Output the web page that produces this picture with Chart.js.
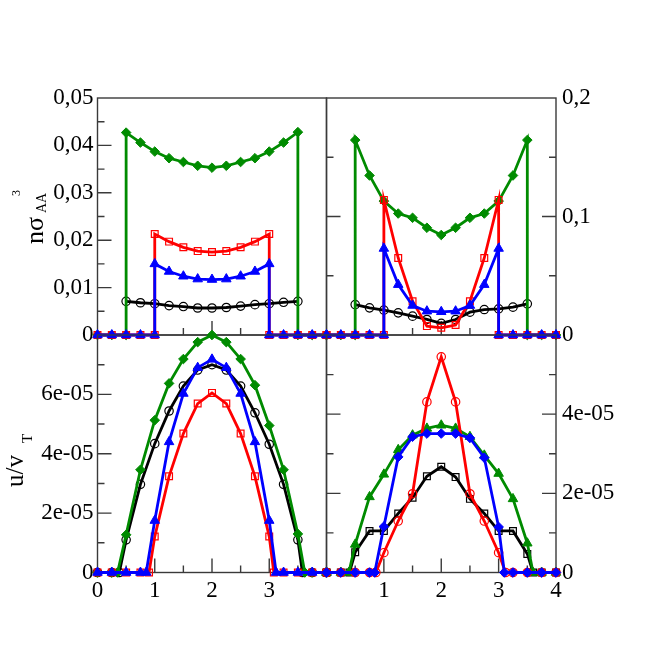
<!DOCTYPE html>
<html>
<head>
<meta charset="utf-8">
<script src="https://cdn.jsdelivr.net/npm/chart.js@4.4.0/dist/chart.umd.min.js"></script>
<style>
  html, body { margin: 0; padding: 0; background: #fff; }
  #wrap { position: relative; width: 654px; height: 671px; overflow: hidden; }
  #wrap canvas { position: absolute; left: 0; top: 0; }
</style>
</head>
<body>
<div id="wrap">
  <canvas id="cTL" width="654" height="671"></canvas>
  <canvas id="cTR" width="654" height="671"></canvas>
  <canvas id="cBL" width="654" height="671"></canvas>
  <canvas id="cBR" width="654" height="671"></canvas>
</div>
<script>
// ---------------- DATA ----------------
// Top-left panel: density n*sigma_AA^3
const TL_green_x = [0,0.25,0.5,0.5,0.75,1,1.25,1.5,1.75,2,2.25,2.5,2.75,3,3.25,3.5,3.5,3.75,4];
const TL_green_y = [0,0,0,0.0427,0.0406,0.0387,0.0373,0.0365,0.0357,0.0353,0.0357,0.0365,0.0373,0.0387,0.0406,0.0428,0,0,0];
const TL_step_x  = [0,0.25,0.5,0.75,1,1,1.25,1.5,1.75,2,2.25,2.5,2.75,3,3,3.25,3.5,3.75,4];
const TL_red_y   = [0,0,0,0,0,0.0213,0.0197,0.0185,0.0177,0.0175,0.0177,0.0185,0.0197,0.0213,0,0,0,0,0];
const TL_blue_y  = [0,0,0,0,0,0.0150,0.0134,0.0124,0.0118,0.0117,0.0118,0.0124,0.0134,0.0150,0,0,0,0,0];
const TL_black_x = [0.5,0.75,1,1.25,1.5,1.75,2,2.25,2.5,2.75,3,3.25,3.5];
const TL_black_y = [0.0071,0.0068,0.0066,0.0062,0.0060,0.0057,0.0057,0.0058,0.0061,0.0064,0.0066,0.0069,0.0071];

// Top-right panel: density
const TR_green_x = [0,0.25,0.5,0.5,0.75,1,1.25,1.5,1.75,2,2.25,2.5,2.75,3,3.25,3.5,3.5,3.75,4];
const TR_green_y = [0,0,0,0.1645,0.1346,0.113,0.1025,0.0989,0.0905,0.0844,0.0905,0.0989,0.1025,0.113,0.1346,0.1645,0,0,0];
const TR_step_x  = [0,0.25,0.5,0.75,1,1,1.25,1.5,1.75,2,2.25,2.5,2.75,3,3,3.25,3.5,3.75,4];
const TR_red_y   = [0,0,0,0,0,0.114,0.065,0.0285,0.0075,0.0061,0.0084,0.0285,0.065,0.114,0,0,0,0,0];
const TR_blue_y  = [0,0,0,0,0,0.073,0.0425,0.0249,0.0201,0.0196,0.0201,0.0249,0.0425,0.073,0,0,0,0,0];
const TR_black_x = [0.5,0.75,1,1.25,1.5,1.75,2,2.25,2.5,2.75,3,3.25,3.5];
const TR_black_y = [0.0257,0.0229,0.0210,0.0187,0.0159,0.0131,0.0098,0.0131,0.0193,0.0215,0.0221,0.0235,0.0263];

// Bottom-left panel: velocity u/v_T
const BL_green_x = [0,0.25,0.35,0.5,0.75,1,1.25,1.5,1.75,2,2.25,2.5,2.75,3,3.25,3.5,3.62,3.75,4];
const BL_green_y = [0,0,0,1.27e-5,3.46e-5,5.13e-5,6.37e-5,7.19e-5,7.76e-5,8.0e-5,7.76e-5,7.19e-5,6.31e-5,4.95e-5,3.46e-5,1.3e-5,0,0,0];
const BL_black_x = [0,0.25,0.38,0.5,0.75,1,1.25,1.5,1.75,2,2.25,2.5,2.75,3,3.25,3.5,3.58,3.75,4];
const BL_black_y = [0,0,0,1.1e-5,2.97e-5,4.34e-5,5.44e-5,6.28e-5,6.82e-5,7.0e-5,6.82e-5,6.28e-5,5.38e-5,4.32e-5,2.97e-5,1.1e-5,0,0,0];
const BL_blue_x  = [0,0.25,0.5,0.75,0.85,1,1.25,1.5,1.75,2,2.25,2.5,2.75,3,3.12,3.25,3.5,3.75,4];
const BL_blue_y  = [0,0,0,0,0,1.75e-5,4.4e-5,6.03e-5,6.9e-5,7.18e-5,6.9e-5,6.03e-5,4.4e-5,1.75e-5,0,0,0,0,0];
const BL_red_x   = [0,0.25,0.5,0.75,0.9,1,1.25,1.5,1.75,2,2.25,2.5,2.75,3,3.08,3.25,3.5,3.75,4];
const BL_red_y   = [0,0,0,0,0,1.21e-5,3.24e-5,4.68e-5,5.69e-5,6.05e-5,5.69e-5,4.68e-5,3.24e-5,1.21e-5,0,0,0,0,0];

// Bottom-right panel: velocity
const BR_red_x   = [0,0.25,0.5,0.75,0.86,1,1.25,1.5,1.75,2,2.25,2.5,2.75,3,3.12,3.25,3.5,3.75,4];
const BR_red_y   = [0,0,0,0,0,0.5e-5,1.3e-5,1.99e-5,4.31e-5,5.45e-5,4.31e-5,1.99e-5,1.3e-5,0.5e-5,0,0,0,0,0];
const BR_green_x = [0,0.25,0.39,0.5,0.75,1,1.25,1.5,1.75,2,2.25,2.5,2.75,3,3.25,3.5,3.6,3.75,4];
const BR_green_y = [0,0,0,0.71e-5,1.91e-5,2.48e-5,3.1e-5,3.47e-5,3.64e-5,3.72e-5,3.64e-5,3.43e-5,2.96e-5,2.5e-5,1.86e-5,0.74e-5,0,0,0];
const BR_blue_x  = [0,0.25,0.5,0.75,0.84,1,1.25,1.5,1.75,2,2.25,2.5,2.75,3,3.1,3.25,3.5,3.75,4];
const BR_blue_y  = [0,0,0,0,0,1.16e-5,2.92e-5,3.43e-5,3.51e-5,3.51e-5,3.51e-5,3.4e-5,2.9e-5,1.15e-5,0,0,0,0,0];
const BR_black_x = [0,0.25,0.4,0.5,0.75,1,1.25,1.5,1.75,2,2.25,2.5,2.75,3,3.25,3.5,3.6,3.75,4];
const BR_black_y = [0,0,0,0.51e-5,1.05e-5,1.05e-5,1.49e-5,1.89e-5,2.43e-5,2.67e-5,2.41e-5,1.86e-5,1.49e-5,1.05e-5,1.05e-5,0.47e-5,0,0,0];

// Tick values and labels
const TL_yTickVals = [0,0.01,0.02,0.03,0.04,0.05];
const TL_yTickLabels = ['0','0,01','0,02','0,03','0,04','0,05'];
const TR_yTickVals = [0,0.1,0.2];
const TR_yTickLabels = ['0','0,1','0,2'];
const BL_yTickVals = [0,2e-5,4e-5,6e-5];
const BL_yTickLabels = ['0','2e-05','4e-05','6e-05'];
const BR_yTickVals = [0,2e-5,4e-5];
const BR_yTickLabels = ['0','2e-05','4e-05'];
const BL_xTickVals = [0,1,2,3];
const BL_xTickLabels = ['0','1','2','3'];
const BR_xTickVals = [1,2,3,4];
const BR_xTickLabels = ['1','2','3','4'];

const xMajorMarks = [1,2,3];
const xMinorMarks = [0.5,1.5,2.5,3.5];
const TL_yMajorMarks = [0.01,0.02,0.03,0.04];
const TL_yMinorMarks = [0.005,0.015,0.025,0.035,0.045];
const TR_yMajorMarks = [0.1];
const TR_yMinorMarks = [0.05,0.15];
const BL_yMajorMarks = [2e-5,4e-5,6e-5];
const BL_yMinorMarks = [1e-5,3e-5,5e-5,7e-5];
const BR_yMajorMarks = [2e-5,4e-5];
const BR_yMinorMarks = [1e-5,3e-5,5e-5];

// ---------------- STYLE / HELPERS ----------------
const GREEN = '#008b00', RED = '#ff0000', BLUE = '#0000ff', BLACK = '#000000';
const FONT = 'Liberation Serif';
const W = 654, H = 671;
const P = { left: 97.5, mid: 326.5, right: 556, top: 98, midY: 335, bottom: 572.5 };

function pts(xs, ys) { return xs.map((x, i) => ({ x: x, y: ys[i] })); }

function ds(xs, ys, color, style, radius, filled) {
  return {
    data: pts(xs, ys),
    showLine: true,
    borderColor: color,
    backgroundColor: color,
    borderWidth: 2.8,
    tension: 0,
    clip: false,
    pointStyle: style,
    pointRadius: radius,
    pointHoverRadius: radius,
    pointBorderColor: color,
    pointBackgroundColor: filled ? color : 'rgba(0,0,0,0)',
    pointBorderWidth: filled ? 1 : 1.2
  };
}

const frameTicks = {
  id: 'frameTicks',
  beforeDatasetsDraw(chart, args, o) {
    const { ctx, chartArea: a, scales } = chart;
    const xs = scales.x, ys = scales.y;
    ctx.save();
    ctx.strokeStyle = '#3a3a3a';
    ctx.lineWidth = 1.4;
    ctx.strokeRect(a.left, a.top, a.right - a.left, a.bottom - a.top);
    ctx.beginPath();
    const mark = (vals, len) => {
      vals.forEach(v => {
        const p = xs.getPixelForValue(v);
        ctx.moveTo(p, a.bottom); ctx.lineTo(p, a.bottom - len);
      });
    };
    mark(o.xMajor, 14); mark(o.xMinor, 7);
    const ymark = (vals, len) => {
      vals.forEach(v => {
        const p = ys.getPixelForValue(v);
        if (o.ySides.includes('left')) { ctx.moveTo(a.left, p); ctx.lineTo(a.left + len, p); }
        if (o.ySides.includes('right')) { ctx.moveTo(a.right, p); ctx.lineTo(a.right - len, p); }
      });
    };
    ymark(o.yMajor, 14); ymark(o.yMinor, 7);
    ctx.stroke();
    ctx.restore();
  }
};

function drawRot(ctx, text, size, bx, by) {
  ctx.save();
  ctx.translate(bx, by);
  ctx.rotate(-Math.PI / 2);
  ctx.font = size + 'px "' + FONT + '"';
  ctx.fillStyle = '#000';
  ctx.textAlign = 'left';
  ctx.textBaseline = 'alphabetic';
  ctx.fillText(text, 0, 0);
  ctx.restore();
}

const titles = {
  id: 'titles',
  afterDraw(chart, args, o) {
    const ctx = chart.ctx;
    o.items.forEach(it => drawRot(ctx, it[0], it[1], it[2], it[3]));
  }
};

function yScale(min, max, pos, vals, labels, pad) {
  return {
    type: 'linear', min: min, max: max, position: pos,
    grid: { display: false, drawTicks: false },
    border: { display: false },
    afterBuildTicks: s => { s.ticks = vals.map(v => ({ value: v })); },
    afterFit: s => { s.width = 60; },
    ticks: {
      autoSkip: false, padding: pad, color: '#000',
      font: { family: FONT, size: 23 },
      callback: (v, i) => labels[i]
    }
  };
}

function xScale(vals, labels) {
  if (!vals) {
    return { type: 'linear', min: 0, max: 4, display: false };
  }
  return {
    type: 'linear', min: 0, max: 4, position: 'bottom',
    grid: { display: false, drawTicks: false },
    border: { display: false },
    afterBuildTicks: s => { s.ticks = vals.map(v => ({ value: v })); },
    afterFit: s => { s.height = 40; },
    ticks: {
      autoSkip: false, maxRotation: 0, padding: 5, color: '#000',
      font: { family: FONT, size: 23 },
      callback: (v, i) => labels[i]
    }
  };
}

function makeChart(id, datasets, scales, padding, frameOpts, titleItems) {
  return new Chart(document.getElementById(id), {
    type: 'scatter',
    data: { datasets: datasets },
    plugins: [frameTicks, titles],
    options: {
      responsive: false,
      animation: false,
      events: [],
      layout: { padding: padding },
      scales: scales,
      plugins: {
        legend: { display: false },
        tooltip: { enabled: false },
        frameTicks: frameOpts,
        titles: { items: titleItems || [] }
      }
    }
  });
}

// ---------------- CHARTS ----------------
// Top-left
makeChart('cTL', [
    ds(TL_step_x, TL_blue_y, BLUE, 'triangle', 5.5, true),
    ds(TL_step_x, TL_red_y, RED, 'rect', 4.8, false),
    ds(TL_green_x, TL_green_y, GREEN, 'rectRot', 4.8, true),
    ds(TL_black_x, TL_black_y, BLACK, 'circle', 4.2, false)
  ],
  { x: xScale(null), y: yScale(0, 0.05, 'left', TL_yTickVals, TL_yTickLabels, 4) },
  { left: P.left - 60, right: W - P.mid, top: P.top, bottom: H - P.midY },
  { xMajor: xMajorMarks, xMinor: xMinorMarks, yMajor: TL_yMajorMarks, yMinor: TL_yMinorMarks, ySides: ['left'] },
  [['n\u03c3', 26, 43, 244], ['AA', 14, 46, 213], ['3', 12, 20, 196]]
);

// Top-right
makeChart('cTR', [
    ds(TR_step_x, TR_blue_y, BLUE, 'triangle', 5.5, true),
    ds(TR_step_x, TR_red_y, RED, 'rect', 4.8, false),
    ds(TR_green_x, TR_green_y, GREEN, 'rectRot', 4.8, true),
    ds(TR_black_x, TR_black_y, BLACK, 'circle', 4.2, false)
  ],
  { x: xScale(null), y: yScale(0, 0.2, 'right', TR_yTickVals, TR_yTickLabels, 6) },
  { left: P.mid, right: W - P.right - 60, top: P.top, bottom: H - P.midY },
  { xMajor: xMajorMarks, xMinor: xMinorMarks, yMajor: TR_yMajorMarks, yMinor: TR_yMinorMarks, ySides: ['left', 'right'] }
);

// Bottom-left
makeChart('cBL', [
    ds(BL_blue_x, BL_blue_y, BLUE, 'triangle', 5.5, true),
    ds(BL_red_x, BL_red_y, RED, 'rect', 4.8, false),
    ds(BL_green_x, BL_green_y, GREEN, 'rectRot', 4.8, true),
    ds(BL_black_x, BL_black_y, BLACK, 'circle', 4.2, false)
  ],
  { x: xScale(BL_xTickVals, BL_xTickLabels), y: yScale(0, 8e-5, 'left', BL_yTickVals, BL_yTickLabels, 4) },
  { left: P.left - 60, right: W - P.mid, top: P.midY, bottom: H - P.bottom - 40 },
  { xMajor: xMajorMarks, xMinor: xMinorMarks, yMajor: BL_yMajorMarks, yMinor: BL_yMinorMarks, ySides: ['left'] },
  [['u/v', 25, 23, 487], ['T', 15, 32, 443]]
);

// Bottom-right
makeChart('cBR', [
    ds(BR_blue_x, BR_blue_y, BLUE, 'rectRot', 4.8, true),
    ds(BR_red_x, BR_red_y, RED, 'circle', 4.2, false),
    ds(BR_green_x, BR_green_y, GREEN, 'triangle', 5.5, true),
    ds(BR_black_x, BR_black_y, BLACK, 'rect', 4.8, false)
  ],
  { x: xScale(BR_xTickVals, BR_xTickLabels), y: yScale(0, 6e-5, 'right', BR_yTickVals, BR_yTickLabels, 6) },
  { left: P.mid, right: W - P.right - 60, top: P.midY, bottom: H - P.bottom - 40 },
  { xMajor: xMajorMarks, xMinor: xMinorMarks, yMajor: BR_yMajorMarks, yMinor: BR_yMinorMarks, ySides: ['left', 'right'] }
);
</script>
</body>
</html>
